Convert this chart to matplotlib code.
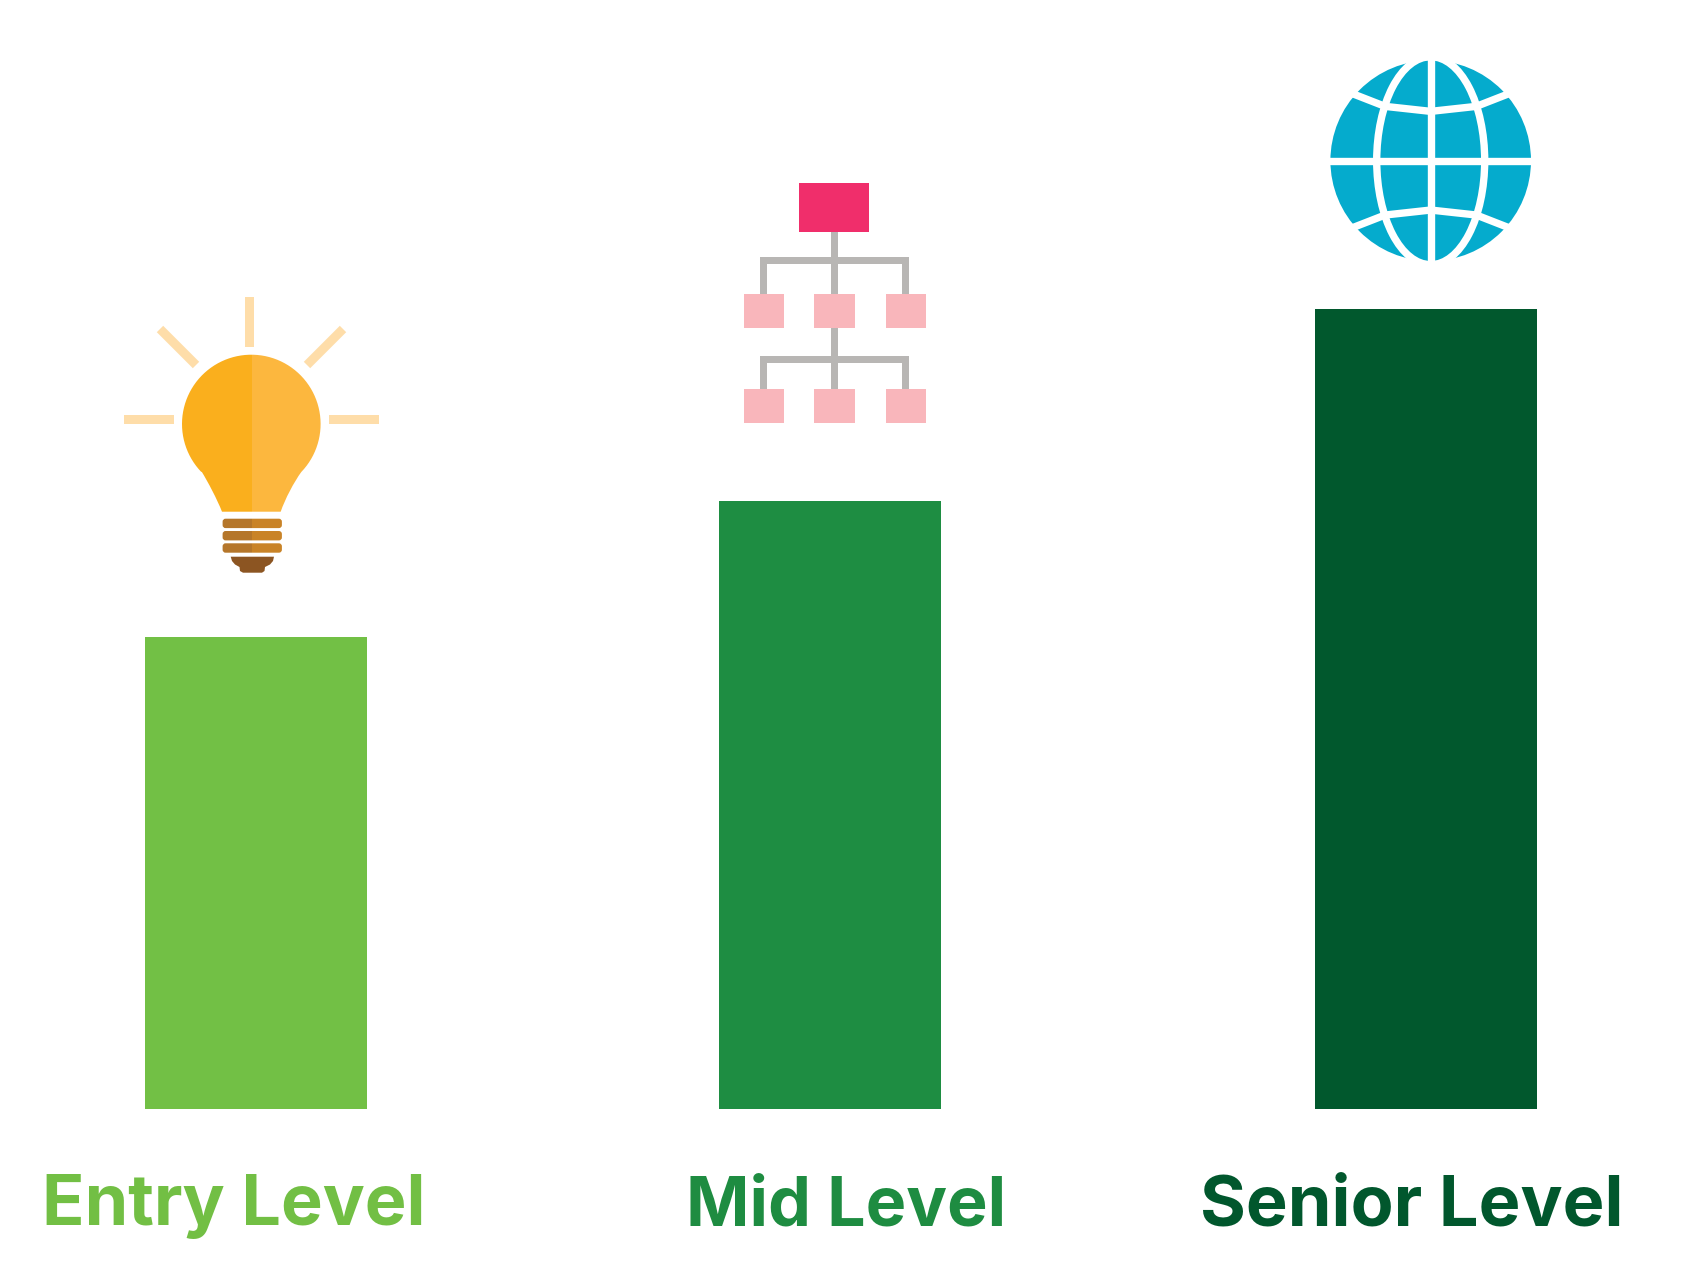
import matplotlib
matplotlib.use('Agg')
import matplotlib.pyplot as plt
import numpy as np
from matplotlib.patches import Rectangle, Circle, Ellipse, Polygon, PathPatch, FancyBboxPatch
from matplotlib.path import Path

# bar data, heights
categories = ['Entry Level', 'Mid Level', 'Senior Level']
values = [472, 608, 800]
bar_colors = ['#72C045', '#1E8D42', '#01582D']
text_colors = ['#72BF44', '#1E8C41', '#01572D']
bar_centers = [256, 830, 1426.3]
label_left = [42, 686, 1200]
label_size = [50.5, 49, 50.6]

fig = plt.figure(figsize=(16.84, 12.72), dpi=100)
ax = fig.add_axes([0, 0, 1, 1])
# y=0 is the foot of the bars
ax.set_xlim(0, 1684)
ax.set_ylim(-163, 1109)
ax.axis('off')
ax.bar(bar_centers, values, width=222, color=bar_colors, linewidth=0)

for i in range(3):
    ax.text(label_left[i], -116, categories[i], color=text_colors[i], family='Inter',
            fontweight='bold', fontsize=label_size[i], ha='left', va='baseline')

# second axes in pixel coordinates for the icons
ic = fig.add_axes([0, 0, 1, 1])
ic.set_xlim(0, 1684)
ic.set_ylim(1272, 0)
ic.axis('off')
ic.patch.set_alpha(0)

# light bulb
ray = '#FEDDA9'
ic.add_patch(Rectangle((245, 297), 9, 50, color=ray, lw=0))
ic.add_patch(Rectangle((124, 415), 50, 9, color=ray, lw=0))
ic.add_patch(Rectangle((328.5, 415), 50, 9, color=ray, lw=0))
ic.plot([160, 196], [329, 365], color=ray, lw=6.5, solid_capstyle='butt')
ic.plot([343, 307], [329, 365], color=ray, lw=6.5, solid_capstyle='butt')

# bulb outline, arc over the top then the two necks
cx, cy, r = 251.3, 424, 69.3
a0 = np.arctan2(471.7 - cy, 301 - cx)
a1 = np.arctan2(471.7 - cy, 201.7 - cx)
angles = np.linspace(a1, a0 + 2 * np.pi, 80)
verts = [(cx + r * np.cos(a), cy + r * np.sin(a)) for a in angles]
codes = [Path.MOVETO] + [Path.LINETO] * (len(verts) - 1)
verts += [(294, 482), (285, 499), (280.7, 511.7), (222, 511.7), (217, 499), (208, 482), (201.7, 471.7)]
codes += [Path.CURVE4] * 3 + [Path.LINETO] + [Path.CURVE4] * 3
bulb = Path(verts, codes)
left_clip = Rectangle((150, 330), 102.3, 200, transform=ic.transData)
right_clip = Rectangle((252.3, 330), 100, 200, transform=ic.transData)
p = ic.add_patch(PathPatch(bulb, fc='#FAAF1D', lw=0))
p.set_clip_path(left_clip)
p = ic.add_patch(PathPatch(bulb, fc='#FCB73E', lw=0))
p.set_clip_path(right_clip)

# screw thread
for y in [518.7, 531, 543.3]:
    for col, box in [('#B5762A', (150, 500, 102.3, 80)), ('#C98327', (252.3, 500, 100, 80))]:
        th = ic.add_patch(FancyBboxPatch((225, y + 2.4), 54.5, 4.6,
                                         boxstyle='round,pad=2.4,rounding_size=3', fc=col, lw=0))
        th.set_clip_path(Rectangle((box[0], box[1]), box[2], box[3], transform=ic.transData))
ic.add_patch(Polygon([(230.7, 556.7), (274, 556.7), (273, 561), (270, 564.5), (265, 567), (264.5, 571),
                      (262, 572.7), (243, 572.7), (240, 571), (239.5, 567), (235, 564.5), (232, 561)],
                     fc='#8C5522', lw=0))

# org chart
grey = '#B8B6B4'
ic.add_patch(Rectangle((831, 232), 6.7, 62, color=grey, lw=0))
ic.add_patch(Rectangle((831, 328), 6.7, 61, color=grey, lw=0))
for y, bottom in [(257, 294.5), (356, 389)]:
    ic.add_patch(Rectangle((760, y), 149, 6.7, color=grey, lw=0))
    ic.add_patch(Rectangle((760, y), 6.8, bottom - y, color=grey, lw=0))
    ic.add_patch(Rectangle((902, y), 6.8, bottom - y, color=grey, lw=0))
ic.add_patch(Rectangle((799.1, 183.3), 70, 49, color='#F02E6B', lw=0))
for x in [743.6, 814.3, 885.7]:
    for y in [294.3, 389]:
        ic.add_patch(Rectangle((x, y), 40.3, 34.2, color='#F9B6BB', lw=0))

# globe
gx, gy, gr = 1430.7, 160.7, 100.3
ic.add_patch(Circle((gx, gy), gr, fc='#05ABCD', lw=0))
ic.add_patch(Ellipse((gx, gy), 108, 208, fc='none', ec='white', lw=5.3))
ic.plot([gx, gx], [gy - gr - 2, gy + gr + 2], color='white', lw=5.3, solid_capstyle='butt')
ic.plot([gx - gr - 2, gx + gr + 2], [gy, gy], color='white', lw=5.3, solid_capstyle='butt')
dx = np.array([-237, -137, 0, 137, 237]) / 3
dy = np.array([-202, -163, -148, -163, -202]) / 3
ic.plot(gx + dx, gy + dy, color='white', lw=5.3, solid_joinstyle='miter')
ic.plot(gx + dx, gy - dy, color='white', lw=5.3, solid_joinstyle='miter')

fig.savefig('out.png', dpi=100, facecolor='white')
